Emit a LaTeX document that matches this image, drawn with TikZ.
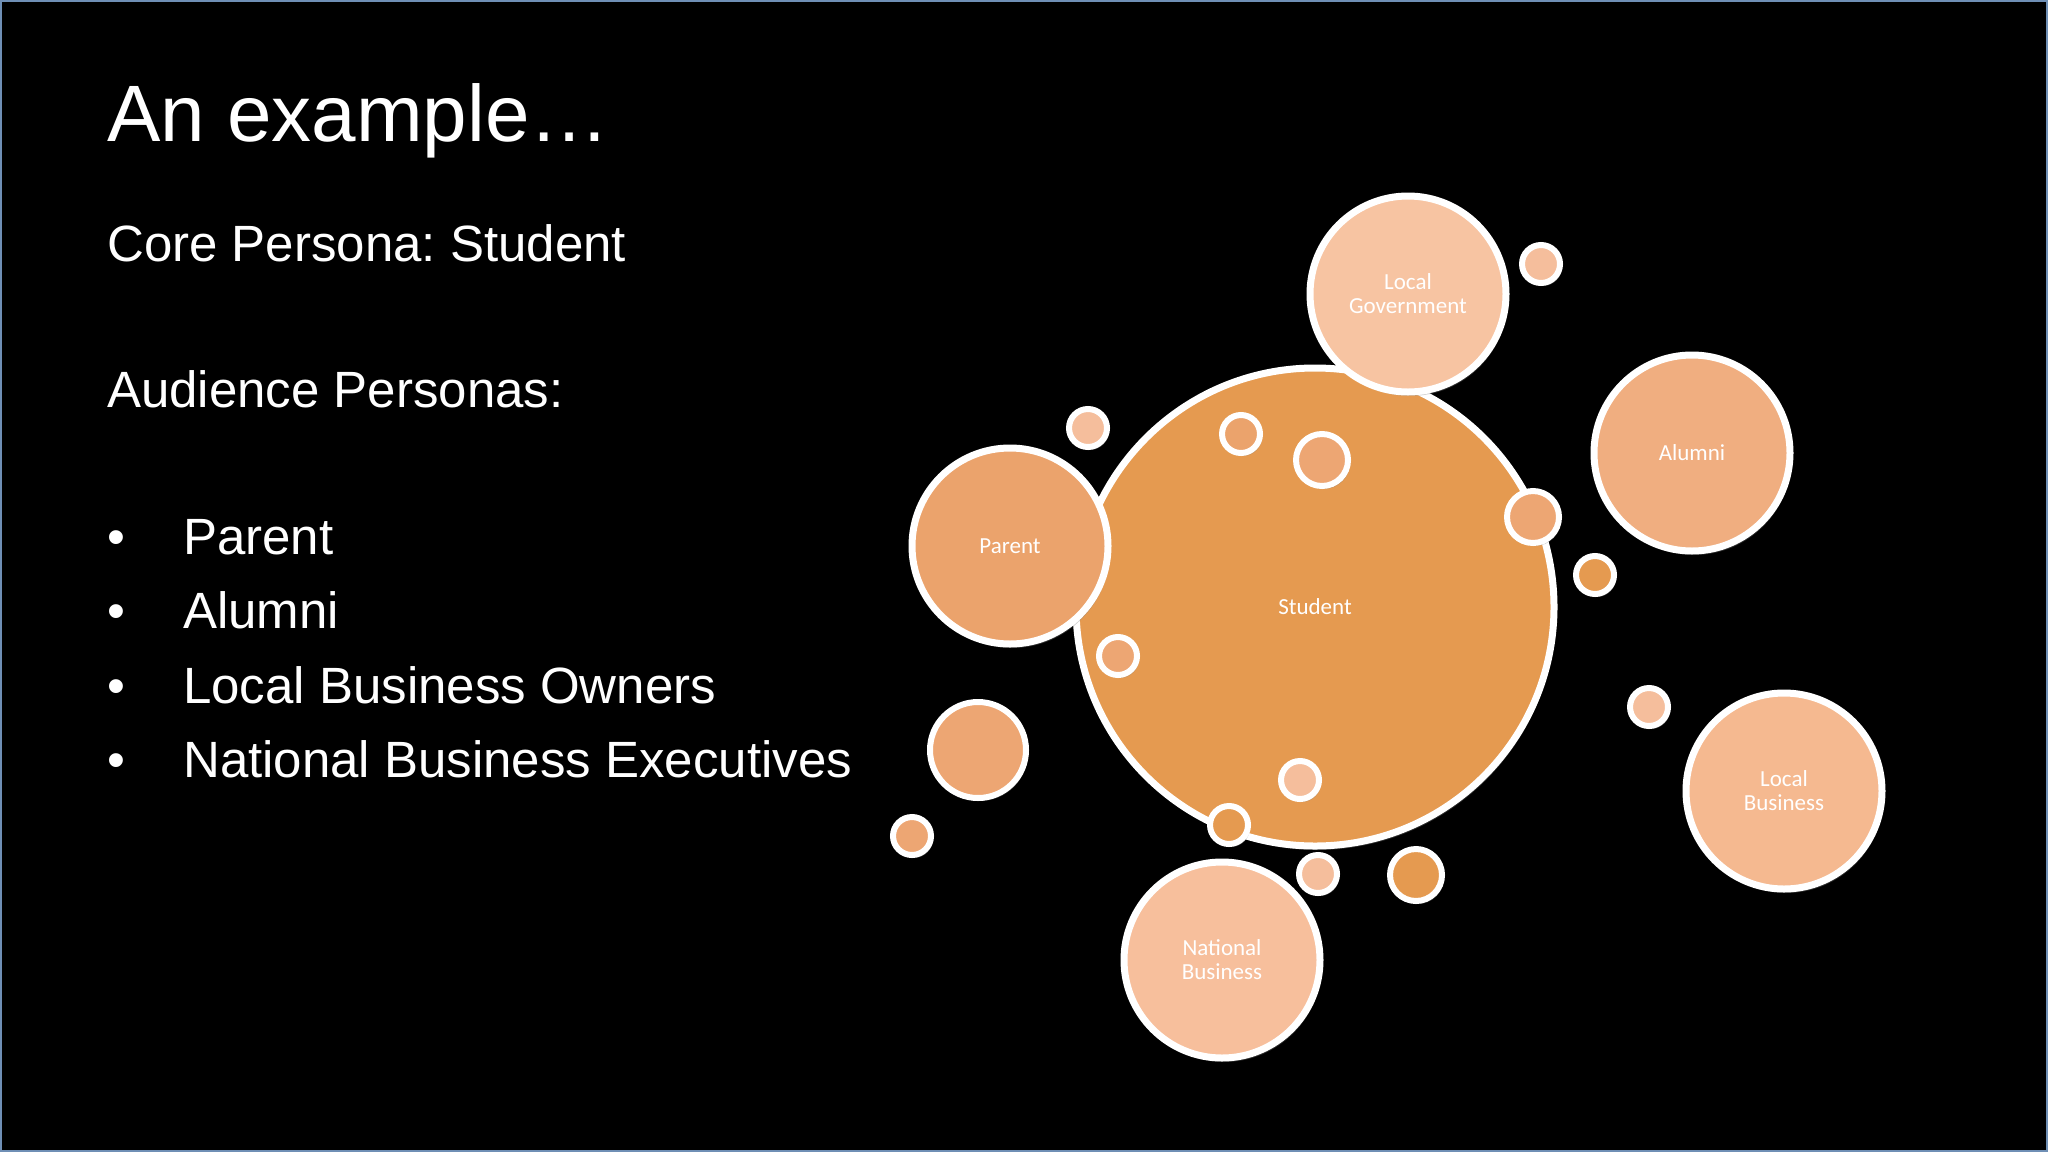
\documentclass[tikz,border=0pt]{standalone}
\usepackage{fontspec}
\setmainfont{Liberation Sans}
\newfontfamily\bubblefont{Carlito}
\usetikzlibrary{shadows}
\frenchspacing
\definecolor{cStudent}{HTML}{E59A50}
\definecolor{cParent}{HTML}{EBA36C}
\definecolor{cAlumni}{HTML}{F0AE80}
\definecolor{cGov}{HTML}{F7C4A2}
\definecolor{cLocBus}{HTML}{F5B990}
\definecolor{cNatBus}{HTML}{F7BF9C}
\definecolor{cLight}{HTML}{F5BE9C}
\definecolor{cMid}{HTML}{EDA673}
\definecolor{cFrame}{HTML}{6F8FB5}
\tikzset{
  bub/.style={circle, draw=white, line width=7pt, inner sep=0pt, align=center,
    text=white, font=\bubblefont\fontsize{23}{24}\selectfont,
    drop shadow={opacity=0.35, shadow xshift=2pt, shadow yshift=-4pt}},
  dot/.style={circle, draw=white, line width=6pt, inner sep=0pt,
    drop shadow={opacity=0.35, shadow xshift=2pt, shadow yshift=-3pt}},
  big/.style={bub, minimum size=196pt},
  sm/.style={dot, minimum size=38pt},
  md/.style={dot, minimum size=52pt},
  title/.style={anchor=base west, text=white, inner sep=0pt, font=\fontsize{80}{90}\selectfont},
  body/.style={anchor=base west, text=white, inner sep=0pt, font=\fontsize{51}{60}\selectfont},
}
\begin{document}
\begin{tikzpicture}[x=1pt, y=-1pt]
\useasboundingbox (0,0) rectangle (2048,1152);
\fill[black] (0,0) rectangle (2048,1152);
\draw[cFrame, line width=2pt] (1,1) rectangle (2047,1151);

% left text
\node[title] (t) at (107,141) {An example…};
\node[body] (core) at (107,261) {Core Persona: Student};
\node[body] (aud) at (107,407) {Audience Personas:};
\node[body] (b1) at (107,554) {•};
\node[body] (l1) at (183,554) {Parent};
\node[body] (b2) at (107,628) {•};
\node[body] (l2) at (183,628) {Alumni};
\node[body] (b3) at (107,703) {•};
\node[body] (l3) at (183,703) {Local Business Owners};
\node[body] (b4) at (107,777) {•};
\node[body] (l4) at (183,777) {National Business Executives};

% bubbles
\node[bub, fill=cStudent, minimum size=478pt] (student) at (1315,607) {Student};
\node[big, fill=cGov] (gov) at (1408,294) {Local\\Government};
\node[big, fill=cParent] (parent) at (1010,546) {Parent};
\node[big, fill=cAlumni] (alumni) at (1692,453) {Alumni};
\node[big, fill=cLocBus] (locbus) at (1784,791) {Local\\Business};
\node[big, fill=cNatBus] (natbus) at (1222,960) {National\\Business};
\node[dot, fill=cMid, minimum size=96pt] (u1) at (978,750) {};

\node[sm, fill=cLight] (s1) at (1541,264) {};
\node[sm, fill=cLight] (s2) at (1088,428) {};
\node[sm, fill=cParent] (s3) at (1241,434) {};
\node[md, fill=cMid] (s4) at (1322,460) {};
\node[md, fill=cMid] (s5) at (1533,517) {};
\node[sm, fill=cStudent] (s6) at (1595,575) {};
\node[sm, fill=cMid] (s7) at (1118,656) {};
\node[sm, fill=cLight] (s8) at (1649,707) {};
\node[sm, fill=cLight] (s9) at (1300,780) {};
\node[sm, fill=cStudent] (s10) at (1229,825) {};
\node[sm, fill=cLight] (s11) at (1318,874) {};
\node[md, fill=cStudent] (s12) at (1416,875) {};
\node[sm, fill=cMid] (s13) at (912,836) {};
\end{tikzpicture}
\end{document}
